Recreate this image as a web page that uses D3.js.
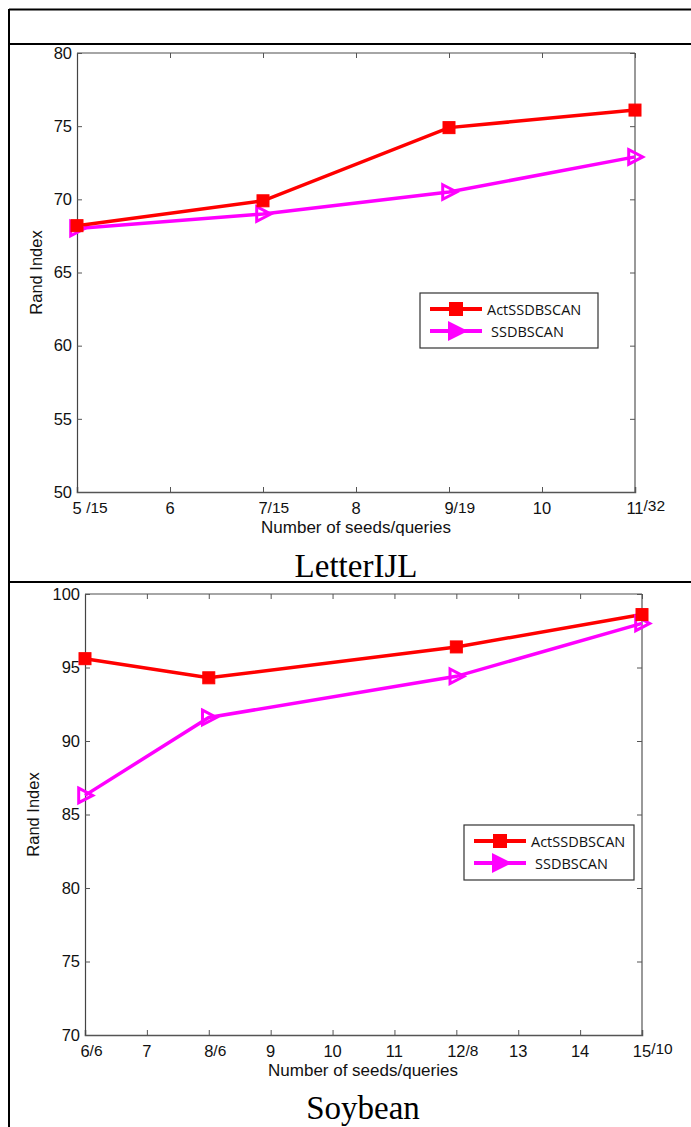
<!DOCTYPE html>
<html><head><meta charset="utf-8">
<script src="https://cdn.jsdelivr.net/npm/d3@7"></script>
<style>body{margin:0;background:#fff}svg{display:block}</style>
</head><body>
<svg id="c" width="691" height="1127"></svg>
<script>
// ---- Data ----
const seriesNames = ["ActSSDBSCAN", "SSDBSCAN"];
// Chart 1: LetterIJL
const letterX = [5, 7, 9, 11];
const letterAct = [68.2, 69.9, 74.9, 76.1];
const letterSS = [68.0, 69.0, 70.5, 72.9];
const letterTicks = [5, 6, 7, 8, 9, 10, 11];
const letterTickLabels = [["5 ", "/15"], ["6", ""], ["7", "/15"], ["8", ""], ["9", "/19"], ["10", ""], ["11", "/32"]];
const letterYTicks = [50, 55, 60, 65, 70, 75, 80];
// Chart 2: Soybean
const soyX = [6, 8, 12, 15];
const soyAct = [95.6, 94.3, 96.4, 98.6];
const soySS = [86.3, 91.6, 94.4, 98.0];
const soyTicks = [6, 7, 8, 9, 10, 11, 12, 13, 14, 15];
const soyTickLabels = [["6", "/6"], ["7", ""], ["8", "/6"], ["9", ""], ["10", ""], ["11", ""], ["12", "/8"], ["13", ""], ["14", ""], ["15", "/10"]];
const soyYTicks = [70, 75, 80, 85, 90, 95, 100];

const svg = d3.select("#c");
const RED = "#ff0000", MAG = "#ff00ff";

// table frame
svg.append("line").attr("x1", 9).attr("x2", 691).attr("y1", 9.5).attr("y2", 9.5).attr("stroke", "#000").attr("stroke-width", 2);
svg.append("line").attr("x1", 9).attr("x2", 691).attr("y1", 44).attr("y2", 44).attr("stroke", "#000").attr("stroke-width", 2);
svg.append("line").attr("x1", 9).attr("x2", 691).attr("y1", 582).attr("y2", 582).attr("stroke", "#000").attr("stroke-width", 2);
svg.append("line").attr("x1", 9).attr("x2", 9).attr("y1", 9).attr("y2", 1127).attr("stroke", "#000").attr("stroke-width", 2);

function tri(s) {
  return `M${-s*0.45},${-s*0.52} L${s*0.55},0 L${-s*0.45},${s*0.52} Z`;
}

function chart(cfg) {
  const x = d3.scaleLinear().domain(cfg.xDomain).range([cfg.left, cfg.right]);
  const y = d3.scaleLinear().domain(cfg.yDomain).range([cfg.bottom, cfg.top]);
  const g = svg.append("g");
  const font = "Arial, 'Liberation Sans', sans-serif";

  // box: top & right gray
  g.append("line").attr("x1", cfg.left).attr("x2", cfg.right).attr("y1", cfg.top).attr("y2", cfg.top).attr("stroke", "#888").attr("stroke-width", 1.5);
  g.append("line").attr("x1", cfg.right).attr("x2", cfg.right).attr("y1", cfg.top).attr("y2", cfg.bottom).attr("stroke", "#777").attr("stroke-width", 1.5);

  // bottom axis
  const xb = g.append("g").attr("transform", `translate(0,${cfg.bottom})`)
    .call(d3.axisBottom(x).tickValues(cfg.ticks).tickSize(-5).tickFormat(""));
  xb.select(".domain").attr("stroke", "#555").attr("stroke-width", 1.5);
  xb.selectAll(".tick line").attr("stroke", "#555");
  // top ticks
  const xt = g.append("g").attr("transform", `translate(0,${cfg.top})`)
    .call(d3.axisTop(x).tickValues(cfg.ticks).tickSize(-5).tickFormat(""));
  xt.select(".domain").remove();
  xt.selectAll(".tick line").attr("stroke", "#555");
  // left axis
  const yl = g.append("g").attr("transform", `translate(${cfg.left},0)`)
    .call(d3.axisLeft(y).tickValues(cfg.yTicks).tickSize(-5).tickPadding(5));
  yl.select(".domain").attr("stroke", "#444").attr("stroke-width", 1.2);
  yl.selectAll(".tick line").attr("stroke", "#555");
  yl.selectAll(".tick text").attr("font-family", font).attr("font-size", 16.5).attr("fill", "#111");
  // right ticks
  const yr = g.append("g").attr("transform", `translate(${cfg.right},0)`)
    .call(d3.axisRight(y).tickValues(cfg.yTicks).tickSize(-5).tickFormat(""));
  yr.select(".domain").remove();
  yr.selectAll(".tick line").attr("stroke", "#555");

  // x tick labels
  const lbl = g.append("g");
  cfg.ticks.forEach((t, i) => {
    const [a, b] = cfg.tickLabels[i];
    const tx = lbl.append("text").attr("x", x(t)).attr("y", cfg.bottom + 22)
      .attr("text-anchor", "start").attr("font-family", font).attr("font-size", 16.5).attr("fill", "#111");
    const ta = tx.append("tspan").text(a);
    const wa = ta.node().getComputedTextLength();
    if (b) {
      tx.append("tspan").text(b).attr("font-size", 15.5).attr("dy", b === "/32" || b === "/10" ? -3 : -1);
    }
    tx.attr("x", x(t) - wa / 2);
  });

  // axis titles
  g.append("text").attr("x", cfg.xlabCx).attr("y", cfg.bottom + 41)
    .attr("text-anchor", "middle").attr("font-family", font).attr("font-size", 17).attr("fill", "#111")
    .text("Number of seeds/queries");
  g.append("text").attr("transform", `translate(${cfg.ylabX},${(cfg.top + cfg.bottom) / 2}) rotate(-90)`)
    .attr("text-anchor", "middle").attr("font-family", font).attr("font-size", 16.5).attr("fill", "#111")
    .text("Rand Index");
  g.append("text").attr("x", cfg.xlabCx).attr("y", cfg.titleY)
    .attr("text-anchor", "middle").attr("font-family", "'Liberation Serif', 'Times New Roman', serif").attr("font-size", 33).attr("fill", "#000")
    .text(cfg.title);

  const line = d3.line().x(d => x(d[0])).y(d => y(d[1]));
  const actPts = cfg.xs.map((v, i) => [v, cfg.act[i]]);
  const ssPts = cfg.xs.map((v, i) => [v, cfg.ss[i]]);

  g.append("path").datum(ssPts).attr("d", line).attr("fill", "none").attr("stroke", MAG).attr("stroke-width", 3.5);
  g.append("path").datum(actPts).attr("d", line).attr("fill", "none").attr("stroke", RED).attr("stroke-width", 3.5);

  g.selectAll(".ss").data(ssPts).enter().append("path")
    .attr("transform", d => `translate(${x(d[0])},${y(d[1])})`)
    .attr("d", tri(14)).attr("fill", "none").attr("stroke", MAG).attr("stroke-width", 3);
  g.selectAll(".act").data(actPts).enter().append("rect")
    .attr("x", d => x(d[0]) - 6).attr("y", d => y(d[1]) - 6).attr("width", 12).attr("height", 12)
    .attr("fill", RED).attr("stroke", RED).attr("stroke-width", 1);

  // legend
  const L = cfg.legend;
  const lg = g.append("g").attr("transform", `translate(${L.x},${L.y})`);
  lg.append("rect").attr("width", L.w).attr("height", L.h).attr("fill", "#fff").attr("stroke", "#333").attr("stroke-width", 1.2);
  const cols = [RED, MAG];
  seriesNames.forEach((n, i) => {
    const yy = 16 + i * 22;
    lg.append("line").attr("x1", 10).attr("x2", 62).attr("y1", yy).attr("y2", yy).attr("stroke", cols[i]).attr("stroke-width", 4);
    if (i === 0) {
      lg.append("rect").attr("x", 29).attr("y", yy - 7).attr("width", 14).attr("height", 14).attr("fill", RED);
    } else {
      lg.append("path").attr("transform", `translate(${36},${yy})`).attr("d", "M-8,-10 L12,0 L-8,10 Z").attr("fill", MAG);
    }
    lg.append("text").attr("x", 67 + (i === 1 ? 4 : 0)).attr("y", yy + 6).attr("font-family", "'Open Sans', 'Noto Sans', sans-serif")
      .attr("font-size", 14.5).attr("fill", "#111").text(n);
  });
}

chart({
  xDomain: [5, 11], yDomain: [50, 80], left: 77, right: 635, top: 53, bottom: 492,
  ticks: letterTicks, tickLabels: letterTickLabels, yTicks: letterYTicks,
  xs: letterX, act: letterAct, ss: letterSS,
  ylabX: 42, xlabCx: 356, titleY: 577, title: "LetterIJL",
  legend: { x: 420, y: 293, w: 178, h: 55 }
});
chart({
  xDomain: [6, 15], yDomain: [70, 100], left: 85, right: 642, top: 594, bottom: 1035,
  ticks: soyTicks, tickLabels: soyTickLabels, yTicks: soyYTicks,
  xs: soyX, act: soyAct, ss: soySS,
  ylabX: 39, xlabCx: 363, titleY: 1119, title: "Soybean",
  legend: { x: 464, y: 825, w: 170, h: 55 }
});
</script>
</body></html>
